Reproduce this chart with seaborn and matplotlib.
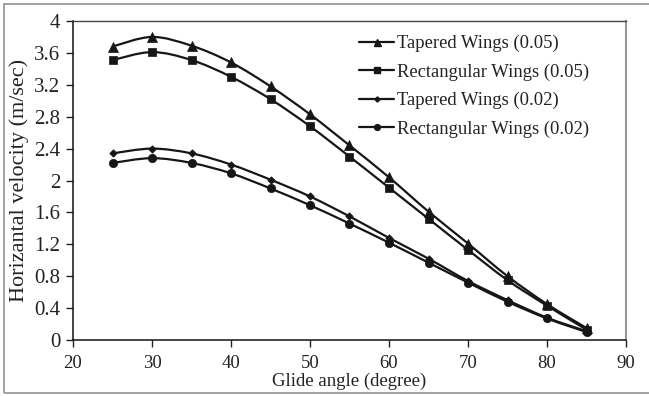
import numpy as np
import pandas as pd
import matplotlib
matplotlib.use("Agg")
import matplotlib.pyplot as plt
from matplotlib.path import Path
from matplotlib.patches import PathPatch, Rectangle
from matplotlib.lines import Line2D
import seaborn as sns

# Glide angle (degree)
glide_angle = [25, 30, 35, 40, 45, 50, 55, 60, 65, 70, 75, 80, 85]

# Horizontal velocity (m/sec) for each wing type
tapered_005 = [3.68, 3.80, 3.69, 3.48, 3.18, 2.83, 2.44, 2.04, 1.61, 1.21, 0.80, 0.45, 0.15]
rectangular_005 = [3.51, 3.61, 3.51, 3.30, 3.02, 2.68, 2.30, 1.91, 1.52, 1.13, 0.75, 0.43, 0.13]
tapered_002 = [2.34, 2.40, 2.34, 2.20, 2.01, 1.80, 1.55, 1.28, 1.02, 0.74, 0.50, 0.28, 0.11]
rectangular_002 = [2.22, 2.28, 2.22, 2.09, 1.90, 1.69, 1.46, 1.22, 0.97, 0.72, 0.48, 0.27, 0.10]

series_names = ["Tapered Wings (0.05)", "Rectangular Wings (0.05)",
                "Tapered Wings (0.02)", "Rectangular Wings (0.02)"]
series_values = [tapered_005, rectangular_005, tapered_002, rectangular_002]

x_ticks = [20, 30, 40, 50, 60, 70, 80, 90]
y_ticks = [0, 0.4, 0.8, 1.2, 1.6, 2, 2.4, 2.8, 3.2, 3.6, 4]
y_tick_labels = ["0", "0.4", "0.8", "1.2", "1.6", "2", "2.4", "2.8", "3.2", "3.6", "4"]

markers = {"Tapered Wings (0.05)": "^", "Rectangular Wings (0.05)": "s",
           "Tapered Wings (0.02)": "D", "Rectangular Wings (0.02)": "o"}
marker_sizes = {"Tapered Wings (0.05)": 7.2, "Rectangular Wings (0.05)": 6.0,
                "Tapered Wings (0.02)": 3.8, "Rectangular Wings (0.02)": 6.0}

df = pd.DataFrame({
    "angle": np.tile(glide_angle, len(series_names)),
    "velocity": np.concatenate(series_values),
    "series": np.repeat(series_names, len(glide_angle)),
})

sns.set_style("ticks")
plt.rcParams["font.family"] = ["Liberation Serif", "DejaVu Serif"]

LINE_COLOR = "#161616"
TEXT_COLOR = "#222222"

fig = plt.figure(figsize=(6.49, 3.96), dpi=100)
ax = fig.add_axes([73 / 649, 1 - 340 / 396, (626 - 73) / 649, (340 - 21) / 396])


def smooth_path(xs, ys):
    """Cubic Bezier path through the points (Catmull-Rom style smoothing)."""
    pts = np.column_stack([xs, ys]).astype(float)
    n = len(pts)
    verts = [pts[0]]
    codes = [Path.MOVETO]
    for i in range(n - 1):
        p0 = pts[i - 1] if i > 0 else pts[i]
        p1 = pts[i]
        p2 = pts[i + 1]
        p3 = pts[i + 2] if i + 2 < n else pts[i + 1]
        c1 = p1 + (p2 - p0) / 6.0
        c2 = p2 - (p3 - p1) / 6.0
        verts += [c1, c2, p2]
        codes += [Path.CURVE4] * 3
    return Path(verts, codes)


for name in series_names:
    sub = df[df["series"] == name]
    ax.add_patch(PathPatch(smooth_path(sub["angle"].values, sub["velocity"].values),
                           facecolor="none", edgecolor=LINE_COLOR, lw=1.6,
                           zorder=2, clip_on=False))
    sns.scatterplot(data=sub, x="angle", y="velocity", marker=markers[name],
                    s=marker_sizes[name] ** 2, color=LINE_COLOR, edgecolor=LINE_COLOR,
                    linewidth=0.5, ax=ax, zorder=3, clip_on=False, legend=False)

ax.set_xlim(20, 90)
ax.set_ylim(0, 4)
ax.set_xticks(x_ticks)
ax.set_yticks(y_ticks)
ax.set_yticklabels(y_tick_labels)
ax.tick_params(axis="both", direction="out", length=5, width=1, color=TEXT_COLOR,
               labelcolor=TEXT_COLOR)
ax.tick_params(axis="x", labelsize=13.5, pad=6)
ax.tick_params(axis="y", labelsize=15, pad=4)

for side in ["left", "bottom"]:
    ax.spines[side].set_color("#111111")
    ax.spines[side].set_linewidth(1.1)
ax.spines["top"].set_color("#444444")
ax.spines["top"].set_linewidth(1.0)
ax.spines["right"].set_color("#8c8c8c")
ax.spines["right"].set_linewidth(1.3)

ax.set_xlabel("Glide angle (degree)", fontsize=13.5, color=TEXT_COLOR, labelpad=0)
ax.set_ylabel("Horizantal velocity (m/sec)", fontsize=16, color=TEXT_COLOR, labelpad=4)

handles = [Line2D([], [], color=LINE_COLOR, lw=1.6, marker=markers[n],
                  markersize=marker_sizes[n] * 0.7) for n in series_names]
leg = ax.legend(handles, series_names, loc="upper left",
                bbox_to_anchor=(359 / 649, 1 - 35 / 396), bbox_transform=fig.transFigure,
                frameon=False, fontsize=13.4, handlelength=1.9, handletextpad=0.12,
                labelspacing=0.6, borderaxespad=0, borderpad=0)
for t in leg.get_texts():
    t.set_color(TEXT_COLOR)

# outer frame around the chart
fig.patches.append(Rectangle((4 / 649, 1 - 393 / 396), 1.0, (393 - 4) / 396,
                             transform=fig.transFigure, fill=False,
                             edgecolor="#9a9a9a", lw=1.3, zorder=0))

fig.savefig("out.png", dpi=100)
